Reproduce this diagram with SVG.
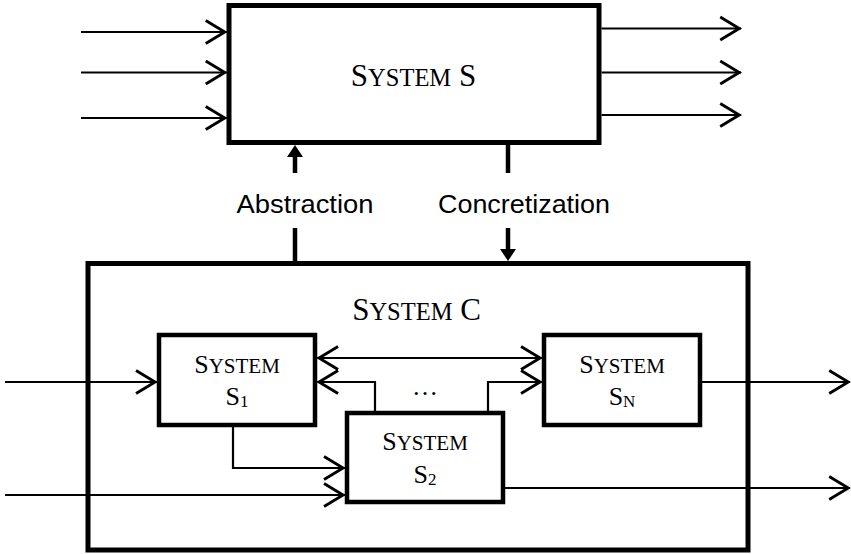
<svg xmlns="http://www.w3.org/2000/svg" width="851" height="554" viewBox="0 0 851 554">
  <style>
    .big { fill: #fff; stroke: #000; stroke-width: 5; }
    .small { fill: #fff; stroke: #000; stroke-width: 4.5; }
    .wire { fill: none; stroke: #000; stroke-width: 2.2; marker-end: url(#open); }
    .thick { fill: none; stroke: #000; stroke-width: 4.5; }
    .serif { font-family: "Liberation Serif", "Times New Roman", serif; fill: #000; }
    .lbl { font-family: "Liberation Sans", Arial, sans-serif; font-size: 26px; fill: #000; text-anchor: middle; }
  </style>
  <defs>
    <marker id="open" markerUnits="userSpaceOnUse" markerWidth="30" markerHeight="30" viewBox="-22 -13 24 26" refX="0" refY="0" orient="auto-start-reverse">
      <path d="M-18,-10 L-1.5,0 L-18,10" fill="none" stroke="#000" stroke-width="2.5"/>
    </marker>
    <marker id="solid" markerUnits="userSpaceOnUse" markerWidth="20" markerHeight="20" viewBox="-1 -10 16 20" refX="0" refY="0" orient="auto">
      <path d="M0,-8 L12,0 L0,8 Z" fill="#000"/>
    </marker>
  </defs>

  <g id="system-c">
    <rect class="big" x="88" y="263.5" width="660" height="286.5"/>
    <text class="serif" x="416.5" y="320" text-anchor="middle"><tspan font-size="31">S</tspan><tspan font-size="24.5">YSTEM</tspan><tspan font-size="31"> C</tspan></text>
  </g>

  <g id="system-s">
    <rect class="big" x="229" y="5.5" width="370" height="137"/>
    <text class="serif" x="413.5" y="86" text-anchor="middle"><tspan font-size="31">S</tspan><tspan font-size="24.5">YSTEM</tspan><tspan font-size="31"> S</tspan></text>
  </g>

  <g id="connectors">
    <!-- inputs to System S -->
    <line class="wire" x1="81" y1="32" x2="226.5" y2="32"/>
    <line class="wire" x1="81" y1="72.5" x2="226.5" y2="72.5"/>
    <line class="wire" x1="81" y1="118" x2="226.5" y2="118"/>
    <!-- outputs of System S -->
    <line class="wire" x1="601.5" y1="28.5" x2="741" y2="28.5"/>
    <line class="wire" x1="601.5" y1="72.5" x2="741" y2="72.5"/>
    <line class="wire" x1="601.5" y1="115" x2="741" y2="115"/>

    <!-- Abstraction -->
    <line class="thick" x1="295" y1="173" x2="295" y2="157" marker-end="url(#solid)"/>
    <line class="thick" x1="295" y1="228" x2="295" y2="262"/>
    <text class="lbl" x="305" y="213" textLength="137" lengthAdjust="spacingAndGlyphs">Abstraction</text>
    <!-- Concretization -->
    <line class="thick" x1="508" y1="144" x2="508" y2="173"/>
    <line class="thick" x1="508" y1="228" x2="508" y2="249" marker-end="url(#solid)"/>
    <text class="lbl" x="524" y="213" textLength="172" lengthAdjust="spacingAndGlyphs">Concretization</text>

    <!-- inner connectors -->
    <line class="wire" x1="5" y1="382" x2="156.8" y2="382"/>
    <line class="wire" x1="5" y1="495" x2="344.8" y2="495"/>
    <polyline class="wire" points="233,427 233,468 344.8,468"/>
    <line class="wire" x1="317.3" y1="358" x2="541.8" y2="358" marker-start="url(#open)"/>
    <polyline class="wire" points="375,411 375,382 317.3,382"/>
    <polyline class="wire" points="488,411 488,382 541.8,382"/>
    <line class="wire" x1="702" y1="382" x2="850" y2="382"/>
    <line class="wire" x1="505" y1="488" x2="850" y2="488"/>
    <text class="serif" x="425" y="395" font-size="26" text-anchor="middle">…</text>
  </g>

  <g id="system-s1">
    <rect class="small" x="159" y="335" width="156" height="90"/>
    <text class="serif" x="237" y="373" text-anchor="middle"><tspan font-size="26">S</tspan><tspan font-size="21">YSTEM</tspan></text>
    <text class="serif" x="237" y="405" text-anchor="middle"><tspan font-size="26">S</tspan><tspan font-size="17" dy="2">1</tspan></text>
  </g>

  <g id="system-s2">
    <rect class="small" x="347" y="413" width="156" height="89"/>
    <text class="serif" x="425" y="450" text-anchor="middle"><tspan font-size="26">S</tspan><tspan font-size="21">YSTEM</tspan></text>
    <text class="serif" x="425" y="483" text-anchor="middle"><tspan font-size="26">S</tspan><tspan font-size="17" dy="2">2</tspan></text>
  </g>

  <g id="system-sn">
    <rect class="small" x="544" y="335" width="156" height="90"/>
    <text class="serif" x="622" y="373" text-anchor="middle"><tspan font-size="26">S</tspan><tspan font-size="21">YSTEM</tspan></text>
    <text class="serif" x="622" y="405" text-anchor="middle"><tspan font-size="26">S</tspan><tspan font-size="17" dy="2">N</tspan></text>
  </g>
</svg>
